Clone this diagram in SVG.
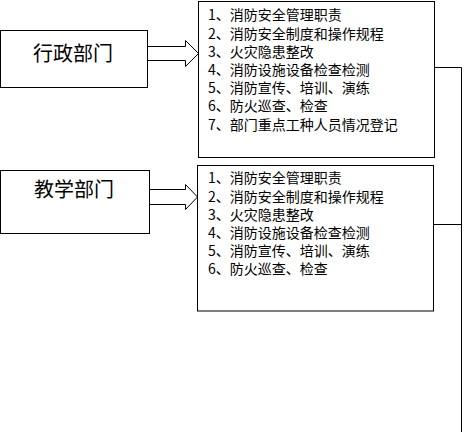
<svg xmlns="http://www.w3.org/2000/svg" width="464" height="432" viewBox="0 0 464 432">
<style>
.box{fill:#fff;stroke:#000;stroke-width:1}
.arr{fill:#fff;stroke:#000;stroke-width:1}
.con{fill:none;stroke:#000;stroke-width:1}
.title{font-family:"Noto Sans CJK SC","Noto Sans",sans-serif;font-size:20px;fill:#000;text-anchor:middle}
.item{font-family:"Noto Sans CJK SC","Noto Sans",sans-serif;font-size:14px;fill:#000}
</style>
<rect width="464" height="432" fill="#fff"/>
<g id="connectors">
<polyline class="con" points="434,67.5 461.5,67.5 461.5,432"/>
<line class="con" x1="433" y1="224.5" x2="461.5" y2="224.5"/>
<polygon class="arr" points="147.5,46.5 185.5,46.5 185.5,40.5 198.5,53.5 185.5,66.5 185.5,60.5 147.5,60.5"/>
<polygon class="arr" points="149.5,189.5 185.5,189.5 185.5,184.5 197.5,197 185.5,209.5 185.5,204.5 149.5,204.5"/>
</g>
<g id="dept1">
<rect class="box" x="0.5" y="30.5" width="147" height="57"/>
<text class="title" x="73" y="61">行政部门</text>
</g>
<g id="dept2">
<rect class="box" x="0.5" y="170.5" width="149" height="63"/>
<text class="title" x="74" y="197">教学部门</text>
</g>
<g id="list1">
<rect class="box" x="198.5" y="1.5" width="236" height="156"/>
<text class="item" x="208" y="20.3">1、消防安全管理职责</text>
<text class="item" x="208" y="38.5">2、消防安全制度和操作规程</text>
<text class="item" x="208" y="56.7">3、火灾隐患整改</text>
<text class="item" x="208" y="74.9">4、消防设施设备检查检测</text>
<text class="item" x="208" y="93.1">5、消防宣传、培训、演练</text>
<text class="item" x="208" y="111.3">6、防火巡查、检查</text>
<text class="item" x="208" y="129.5">7、部门重点工种人员情况登记</text>
</g>
<g id="list2">
<rect class="box" x="197.5" y="165.5" width="236" height="145.5"/>
<text class="item" x="208" y="183.4">1、消防安全管理职责</text>
<text class="item" x="208" y="201.6">2、消防安全制度和操作规程</text>
<text class="item" x="208" y="219.8">3、火灾隐患整改</text>
<text class="item" x="208" y="238">4、消防设施设备检查检测</text>
<text class="item" x="208" y="256.2">5、消防宣传、培训、演练</text>
<text class="item" x="208" y="274.4">6、防火巡查、检查</text>
</g>
</svg>
